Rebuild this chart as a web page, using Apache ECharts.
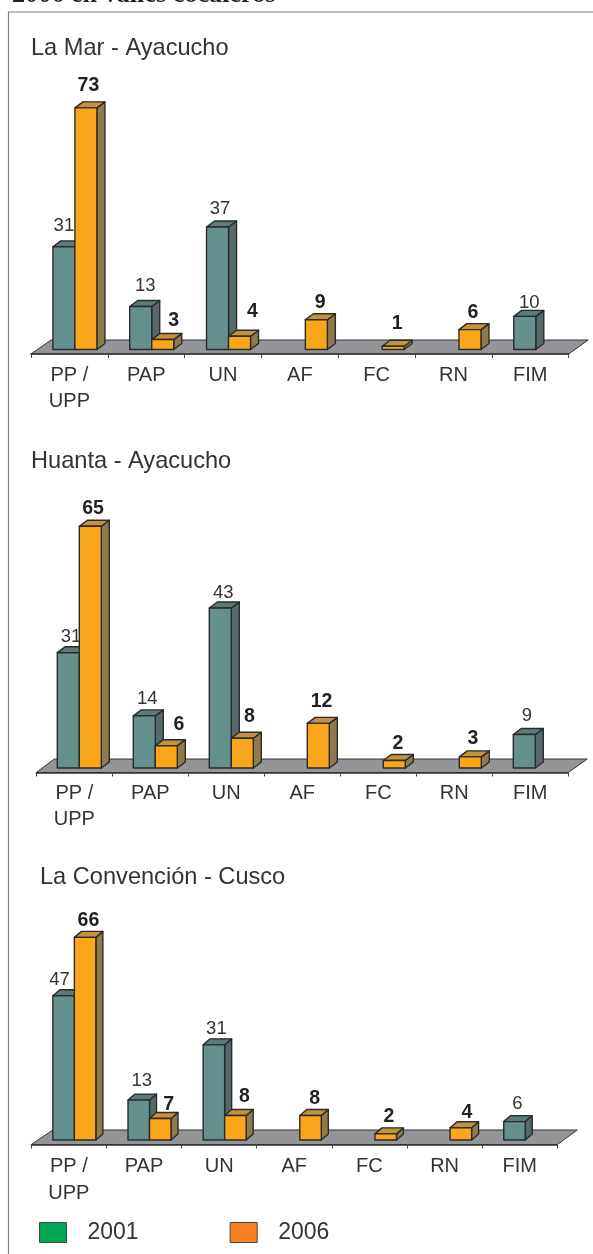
<!DOCTYPE html>
<html><head><meta charset="utf-8">
<style>html,body{margin:0;padding:0;background:#fff}#c{width:593px;height:1254px}</style>
<script src="https://cdn.jsdelivr.net/npm/echarts@6/dist/echarts.min.js"></script>
</head><body><div id="c"></div>
<script>
const categories = ['PP /\nUPP','PAP','UN','AF','FC','RN','FIM'];
const seriesNames = ['2001','2006'];
const laMar2001 = [31,13,37,null,null,null,10];
const laMar2006 = [73,3,4,9,1,6,null];
const huanta2001 = [31,14,43,null,null,null,9];
const huanta2006 = [65,6,8,12,2,3,null];
const convencion2001 = [47,13,31,null,null,null,6];
const convencion2006 = [66,7,8,8,2,4,null];
const chartTitles = ['La Mar - Ayacucho','Huanta - Ayacucho','La Convención - Cusco'];
const pageHeading = '2006 en valles cocaleros';

// layout per panel (pixels); label nudges are [dx,dy] from each bar's front top edge
const panels = [
 {v:[laMar2001,laMar2006], left:31, right:568.7, base:349.5, pxPerUnit:3.31, dOff:5.5, barW:22, depX:8, depY:6, floorL:20, floorR:19.5, floorH:14, lh:26, margin:8.5, titleX:31, titleY:36,
  nudge:[[[0,15],[4.5,15],[2.5,12.5],0,0,0,[4.4,7.3]],[[2.5,16],[11,12.7],[13,18],[3.7,11],[4,16],[3,10.7],0]]},
 {v:[huanta2001,huanta2006], left:36.3, right:568.3, base:768, pxPerUnit:3.72, dOff:5, barW:22, depX:8, depY:6, floorL:18, floorR:19, floorH:13.5, lh:25.5, margin:8.5, titleX:31, titleY:449,
  nudge:[[[2.7,10],[3,11.5],[3,9],0,0,0,[2.7,13]],[[2.7,11],[12.7,14.6],[7,15.6],[3.3,15],[3.6,10],[2.7,12],0]]},
 {v:[convencion2001,convencion2006], left:31.3, right:557.3, base:1140, pxPerUnit:3.07, dOff:5.5, barW:21.5, depX:7, depY:6, floorL:21.5, floorR:20, floorH:14.5, lh:27, margin:8.5, titleX:40, titleY:865,
  nudge:[[[-4,10],[3,13],[2.5,9.7],0,0,0,[2.8,11.7]],[[3.3,10.7],[8.5,7.6],[9,12.4],[4.2,10],[3.3,10.7],[6,8.7],0]]}
];
const YMAX = 80;
const looks = [
 {front:'#64908e', side:'#53696a', top:'#5b7b7b', weight:'normal', text:'#333333'},
 {front:'#faa61a', side:'#8f7a4b', top:'#c4923b', weight:'bold', text:'#231f20'}
];
const STROKE = '#2b2b2b';

function barRenderer(panel, s){
  return function(params, api){
    const idx = api.value(0), val = api.value(1);
    const zero = api.coord([idx,0]), topPt = api.coord([idx,val]);
    const L = looks[s], w = panel.barW, cx = zero[0] + panel.dOff;
    const x0 = s === 0 ? cx - w : cx, x1 = x0 + w, yB = zero[1], yT = topPt[1];
    const dx = panel.depX, dy = panel.depY;
    const ls = {stroke:STROKE, lineWidth:1.4, lineJoin:'round'};
    const n = panel.nudge[s][idx] || [0,10];
    return {type:'group', children:[
      {type:'text', z2:1, style:{text:String(val), x:(x0+x1)/2+n[0], y:yT-n[1]+3.5, align:'center', verticalAlign:'bottom',
        fontFamily:'"Liberation Sans"', fontSize:s===0?18.5:19.5, fontWeight:L.weight, fill:L.text}},
      {type:'polygon', z2:2, shape:{points:[[x1,yB],[x1+dx,yB-dy],[x1+dx,yT-dy],[x1,yT]]}, style:Object.assign({fill:L.side},ls)},
      {type:'polygon', z2:2, shape:{points:[[x0,yT],[x0+dx,yT-dy],[x1+dx,yT-dy],[x1,yT]]}, style:Object.assign({fill:L.top},ls)},
      {type:'rect', z2:3, shape:{x:x0,y:yT,width:w,height:yB-yT}, style:Object.assign({fill:L.front},ls)}
    ]};
  };
}
function floorRenderer(panel){
  return function(params){
    const c = params.coordSys, b = c.y + c.height, f = b + 4.5;
    return {type:'polygon', shape:{points:[[c.x,f],[c.x+panel.floorL,f-panel.floorH],[c.x+c.width+panel.floorR,f-panel.floorH],[c.x+c.width,f]]},
      style:{fill:'#939598', stroke:'#333333', lineWidth:1}};
  };
}

const grids=[], xAxes=[], yAxes=[], series=[], titles=[];
panels.forEach((p,i)=>{
  const h = YMAX*p.pxPerUnit;
  grids.push({left:p.left, width:p.right-p.left, top:p.base-h, height:h, containLabel:false});
  xAxes.push({type:'category', gridIndex:i, data:categories, offset:4.5, z:3,
    axisLine:{show:true,onZero:false,lineStyle:{color:'#333333',width:1.5}},
    axisTick:{show:true,alignWithLabel:false,length:4,lineStyle:{color:'#444444',width:1}},
    axisLabel:{interval:0,margin:p.margin,fontFamily:'"Liberation Sans"',fontSize:20,color:'#333333',lineHeight:p.lh}});
  yAxes.push({type:'value', gridIndex:i, min:0, max:YMAX, show:false, splitLine:{show:false}});
  series.push({type:'custom', name:'floor'+i, xAxisIndex:i, yAxisIndex:i, z:1, silent:true, data:[[0,0]], renderItem:floorRenderer(p), clip:false});
  p.v.forEach((vals,s)=>{
    series.push({type:'custom', name:seriesNames[s], xAxisIndex:i, yAxisIndex:i, z:2, clip:false,
      encode:{x:0,y:1}, renderItem:barRenderer(p,s),
      data:vals.map((v,k)=>v==null?null:[k,v]).filter(d=>d)});
  });
  titles.push({text:chartTitles[i], left:p.titleX, top:p.titleY, padding:0,
    textStyle:{fontFamily:'"Liberation Sans"',fontSize:23.6,fontWeight:'normal',color:'#333333'}});
});

const chart = echarts.init(document.getElementById('c'), null, {renderer:'canvas'});
chart.setOption({
  animation:false, backgroundColor:'#ffffff',
  title:titles, grid:grids, xAxis:xAxes, yAxis:yAxes, series:series,
  legend:{left:39, top:1221, padding:0, itemWidth:27, itemHeight:20, itemGap:91, selectedMode:false, icon:'rect',
    textStyle:{fontFamily:'"Liberation Sans"',fontSize:23,color:'#333333',padding:[6,0,0,16]},
    data:[{name:'2001',itemStyle:{color:'#00a651',borderColor:'#444',borderWidth:1}},
          {name:'2006',itemStyle:{color:'#f7811e',borderColor:'#444',borderWidth:1}}]},
  graphic:[
    {type:'text', left:12, top:-18, style:{text:pageHeading, fontFamily:'"Liberation Serif"', fontWeight:'bold', fontSize:26.2, fill:'#231f20'}},
    {type:'polyline', shape:{points:[[593,12],[8.5,12],[8.5,1254]]}, style:{stroke:'#7f7f7f',lineWidth:1.2,fill:null}}
  ]
});
</script></body></html>
